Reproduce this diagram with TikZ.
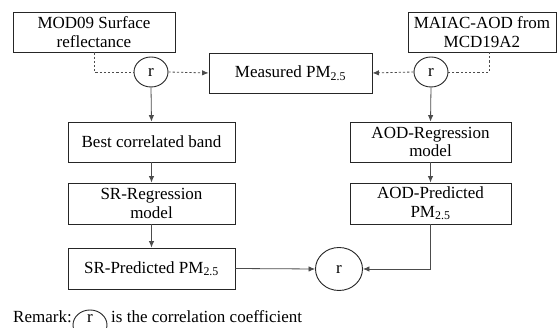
\documentclass[tikz,border=0pt]{standalone}
\usepackage{fontspec}
\setmainfont{Liberation Serif}
\usetikzlibrary{arrows.meta,shapes.geometric}
\newcommand{\pmtwofive}{PM\textsubscript{2.5}}
\tikzset{
  every node/.style={font=\fontsize{17}{18.5}\selectfont},
  box/.style={draw=black!85, line width=0.9pt, rectangle, align=center, inner sep=0pt},
  rnode/.style={draw=black!85, line width=0.9pt, ellipse, inner sep=0pt, minimum width=34pt, minimum height=30pt},
  conn/.style={draw=black!70, line width=0.8pt},
  dconn/.style={conn, dash pattern=on 2.2pt off 2pt},
  arr/.style={-{Latex[length=6.5pt,width=5.5pt]}},
}
\begin{document}
\begin{tikzpicture}[x=1pt,y=-1pt]
\clip (0,0) rectangle (558,328);
\fill[white] (0,0) rectangle (558,328);
% boxes
\node[box, minimum width=162pt, minimum height=40pt] (mod) at (94,32) {MOD09 Surface\\reflectance};
\node[box, minimum width=148pt, minimum height=40pt] (maiac) at (482,32) {MAIAC-AOD from\\MCD19A2};
\node[box, minimum width=163pt, minimum height=40pt] (meas) at (290.5,73) {Measured \pmtwofive};
\node[rnode] (r1) at (151,72) {r};
\node[rnode] (r2) at (431,72) {r};
\node[box, minimum width=167pt, minimum height=40pt] (best) at (151.5,142) {Best correlated band};
\node[box, minimum width=167pt, minimum height=41pt] (srreg) at (151.5,203.5) {SR-Regression\\model};
\node[box, minimum width=167pt, minimum height=41pt] (srpred) at (151.5,268.5) {SR-Predicted \pmtwofive};
\node[box, minimum width=161pt, minimum height=40pt] (aodreg) at (430.5,142) {AOD-Regression\\model};
\node[box, minimum width=161pt, minimum height=41pt] (aodpred) at (430.5,203.5) {AOD-Predicted\\\pmtwofive};
\node[rnode, minimum width=47pt, minimum height=43pt] (r3) at (339,269) {r};
\coordinate (mj) at (489,52);
% connectors
\draw[dconn] (mod.south) |- (r1.west);
\draw[dconn, arr] (r1.east) -- (meas.west);
\draw[dconn] (mj) |- (r2.east);
\draw[dconn, arr] (r2.west) -- (meas.east);
\draw[conn, arr] (r1.south) -- (best.north);
\draw[conn, arr] (r2.south) -- (aodreg.north);
\draw[conn, arr] (best.south) -- (srreg.north);
\draw[conn, arr] (srreg.south) -- (srpred.north);
\draw[conn, arr] (aodreg.south) -- (aodpred.north);
\draw[conn, arr] (srpred.east) -- (r3.west);
\draw[conn, arr] (aodpred.south) |- (r3.east);
% remark
\node[anchor=base west, inner sep=0pt] (remark) at (13,323) {Remark:};
\node[rnode, anchor=base, minimum width=34pt, minimum height=30pt, text height=5pt, text depth=9pt] (rr) at (90,323) {r};
\node[anchor=base west, inner sep=0pt] (remtext) at (111,323) {is the correlation coefficient};
\end{tikzpicture}
\end{document}
